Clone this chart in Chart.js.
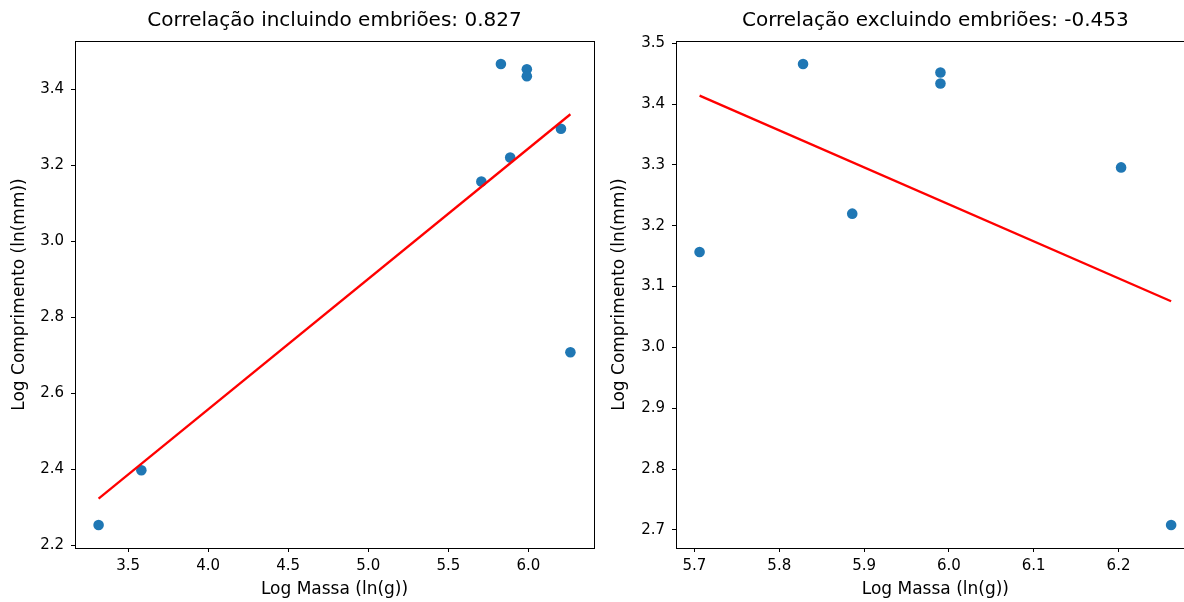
<!DOCTYPE html>
<html>
<head>
<meta charset="utf-8">
<script src="https://cdn.jsdelivr.net/npm/chart.js@4.4.1/dist/chart.umd.min.js"></script>
<style>
  html, body { margin: 0; padding: 0; background: #fff; overflow: hidden; }
  #wrap { position: relative; width: 1184px; height: 602px; overflow: hidden; }
  canvas { position: absolute; top: 0; }
  #cAll { left: 0; }
  #cSem { left: 600px; }
</style>
</head>
<body>
<div id="wrap">
  <canvas id="cAll" width="600" height="602"></canvas>
  <canvas id="cSem" width="600" height="602"></canvas>
</div>
<script>
/* ── Data ── */
// embryos (only in the left plot)
const massaEmb = [3.316, 3.583];
const compEmb  = [2.254, 2.398];
// adults (both plots)
const massaAd = [5.706, 5.828, 5.886, 5.990, 5.990, 6.203, 6.262];
const compAd  = [3.157, 3.466, 3.220, 3.452, 3.434, 3.296, 2.708];

// fitted lines (end points)
const fitAllX = [3.316, 6.262];
const fitAllY = [2.323, 3.334];
const fitSemX = [5.706, 6.262];
const fitSemY = [3.414, 3.076];

// ticks
const xTicksAll = [3.5, 4.0, 4.5, 5.0, 5.5, 6.0];
const yTicksAll = [2.2, 2.4, 2.6, 2.8, 3.0, 3.2, 3.4];
const xTicksSem = [5.7, 5.8, 5.9, 6.0, 6.1, 6.2];
const yTicksSem = [2.7, 2.8, 2.9, 3.0, 3.1, 3.2, 3.3, 3.4, 3.5];

const titleAll = 'Correlação incluindo embriões: 0.827';
const titleSem = 'Correlação excluindo embriões: -0.453';
const xLabel = 'Log Massa (ln(g))';
const yLabel = 'Log Comprimento (ln(mm))';

/* ── helpers ── */
const FONT = 'DejaVu Sans';
const _tick  = { family: FONT, size: 15 };
const _label = { family: FONT, size: 17 };
const pts = (xs, ys) => xs.map((x, i) => ({ x: x, y: ys[i] }));

// matplotlib-like 5% margins
function lims(vals) {
  const lo = Math.min(...vals), hi = Math.max(...vals), m = (hi - lo) * 0.05;
  return { min: lo - m, max: hi + m };
}

// axes frame + title centred over the plot area (like matplotlib)
const frame = {
  id: 'frame',
  afterDraw(chart, args, opts) {
    const { ctx, chartArea: a } = chart;
    ctx.save();
    ctx.strokeStyle = '#000';
    ctx.lineWidth = 1;
    ctx.strokeRect(Math.round(a.left) + 0.5, Math.round(a.top) + 0.5,
                   Math.round(a.right - a.left), Math.round(a.bottom - a.top));
    ctx.fillStyle = '#000';
    ctx.font = '20px "' + FONT + '"';
    ctx.textAlign = 'center';
    ctx.textBaseline = 'middle';
    ctx.fillText(opts.text, (a.left + a.right) / 2, 21);
    ctx.restore();
  }
};

function mkScatter(id, cfg) {
  const xl = lims(cfg.xs), yl = lims(cfg.ys);
  return new Chart(document.getElementById(id), {
    type: 'scatter',
    data: {
      datasets: [
        {
          data: pts(cfg.fitX, cfg.fitY),
          showLine: true,
          borderColor: '#ff0000',
          borderWidth: 2.3,
          pointRadius: 0,
          order: 0
        },
        {
          data: pts(cfg.xs, cfg.ys),
          backgroundColor: '#1f77b4',
          borderWidth: 0,
          pointRadius: 5.3,
          order: 1
        }
      ]
    },
    options: {
      responsive: false,
      animation: false,
      layout: { padding: { left: 0, right: cfg.padRight, top: 41, bottom: 0 } },
      plugins: {
        legend: { display: false },
        tooltip: { enabled: false },
        title: { display: false },
        frame: { text: cfg.title }
      },
      scales: {
        x: {
          type: 'linear',
          min: xl.min, max: xl.max,
          afterBuildTicks: s => { s.ticks = cfg.xTicks.map(v => ({ value: v })); },
          afterFit: s => { s.height = 54; },
          ticks: { font: _tick, color: '#000', padding: 5, maxRotation: 0, autoSkip: false,
                   callback: v => v.toFixed(1) },
          grid: { drawOnChartArea: false, drawTicks: true, tickLength: 4, color: '#000' },
          border: { display: false },
          title: { display: true, text: xLabel, color: '#000', font: _label,
                   padding: { top: 0, bottom: 2 } }
        },
        y: {
          type: 'linear',
          min: yl.min, max: yl.max,
          afterBuildTicks: s => { s.ticks = cfg.yTicks.map(v => ({ value: v })); },
          afterFit: s => { s.width = cfg.yWidth; },
          ticks: { font: _tick, color: '#000', padding: 7, autoSkip: false,
                   callback: v => v.toFixed(1) },
          grid: { drawOnChartArea: false, drawTicks: true, tickLength: 4, color: '#000' },
          border: { display: false },
          title: { display: true, text: yLabel, color: '#000', font: _label,
                   padding: { top: 9, bottom: 0 } }
        }
      }
    },
    plugins: [frame]
  });
}

mkScatter('cAll', {
  title: titleAll,
  xs: massaEmb.concat(massaAd),
  ys: compEmb.concat(compAd),
  fitX: fitAllX, fitY: fitAllY,
  xTicks: xTicksAll, yTicks: yTicksAll,
  yWidth: 75, padRight: 6
});

mkScatter('cSem', {
  title: titleSem,
  xs: massaAd,
  ys: compAd,
  fitX: fitSemX, fitY: fitSemY,
  xTicks: xTicksSem, yTicks: yTicksSem,
  yWidth: 76, padRight: 5
});
</script>
</body>
</html>
